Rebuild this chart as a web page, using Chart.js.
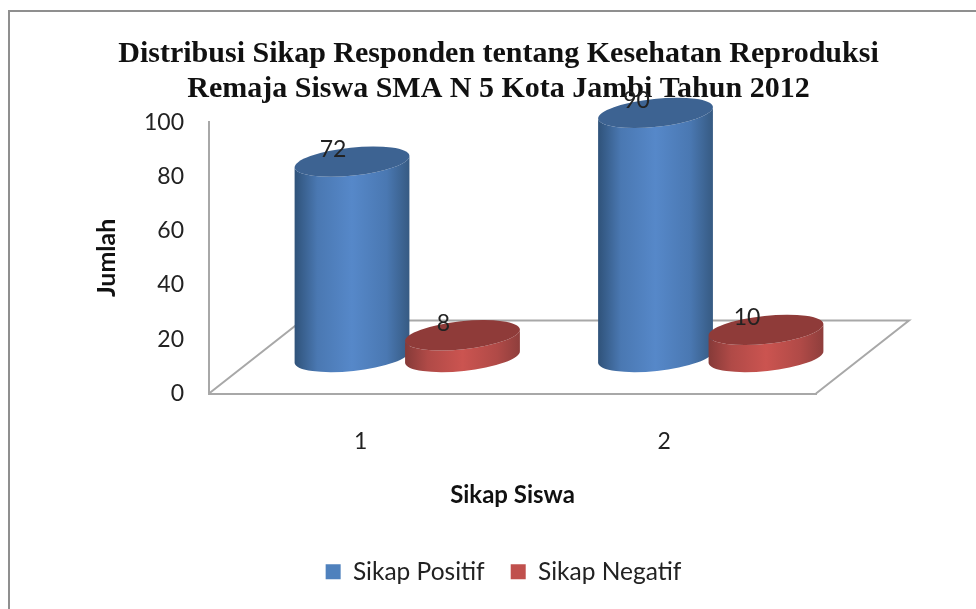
<!DOCTYPE html>
<html>
<head>
<meta charset="utf-8">
<style>
html, body { margin: 0; padding: 0; background: #fff; overflow: hidden; }
#frame { position: absolute; left: 8px; top: 10px; right: 0; bottom: 0; border-left: 2px solid #8f8f8f; border-top: 2px solid #8f8f8f; }
#myChart { position: absolute; left: 0; top: 0; }
</style>
<script src="https://cdn.jsdelivr.net/npm/chart.js@4"></script>
</head>
<body>
<div id="frame"></div>
<canvas id="myChart" width="976" height="609"></canvas>
<script>
const categories = ['1', '2'];
const sikapPositif = [72, 90];
const sikapNegatif = [8, 10];
const titleLines = ['Distribusi Sikap Responden tentang Kesehatan Reproduksi', 'Remaja Siswa SMA N 5 Kota Jambi Tahun 2012'];

// floor depth of the 3d box, cylinders stand in the middle of it
const depthX = 93;
const depthY = 73;
const tilt = -6 * Math.PI / 180;
const capHeight = 14;

const axisGrey = '#a8a8a8';
const textColor = '#222';
const bodyFont = 'Lato';

const shades = [
    { edgeL: '#2f5279', mid: '#4a78b2', light: '#5688c9', edgeR: '#365a82', cap: '#3d6392' },
    { edgeL: '#853a38', mid: '#b04a47', light: '#cb5450', edgeR: '#8e3e3c', cap: '#8f3b39' }
];

function drawCylinder(ctx, bar, shade) {
    const a = bar.width / 2;
    const cx = bar.x + depthX / 2;
    const top = bar.y - depthY / 2;
    const base = bar.base - depthY / 2;

    const grad = ctx.createLinearGradient(cx - a, 0, cx + a, 0);
    grad.addColorStop(0, shade.edgeL);
    grad.addColorStop(0.2, shade.mid);
    grad.addColorStop(0.5, shade.light);
    grad.addColorStop(0.8, shade.mid);
    grad.addColorStop(1, shade.edgeR);

    ctx.beginPath();
    ctx.ellipse(cx, base, a, capHeight, tilt, 0, Math.PI);
    ctx.ellipse(cx, top, a, capHeight, tilt, Math.PI, 0, true);
    ctx.closePath();
    ctx.fillStyle = grad;
    ctx.fill();

    ctx.beginPath();
    ctx.ellipse(cx, top, a, capHeight, tilt, 0, Math.PI * 2);
    ctx.fillStyle = shade.cap;
    ctx.fill();
}

const cylinders = {
    id: 'cylinders',
    afterLayout(chart) {
        // legend sits a little right of the title in the original
        chart.legend.left += 5;
        chart.legend.right += 5;
    },
    beforeDatasetsDraw(chart) {
        const { ctx, chartArea: area } = chart;

        // floor of the box
        ctx.save();
        ctx.strokeStyle = axisGrey;
        ctx.lineWidth = 2;
        ctx.beginPath();
        ctx.moveTo(area.left, area.bottom);
        ctx.lineTo(area.left + depthX, area.bottom - depthY);
        ctx.lineTo(area.right + depthX, area.bottom - depthY);
        ctx.lineTo(area.right, area.bottom);
        ctx.stroke();

        const metas = chart.data.datasets.map((d, i) => chart.getDatasetMeta(i));
        categories.forEach((c, i) => {
            metas.forEach((meta, d) => drawCylinder(ctx, meta.data[i], shades[d]));
        });

        ctx.fillStyle = textColor;
        ctx.font = '23px ' + bodyFont;
        ctx.textAlign = 'center';
        ctx.textBaseline = 'middle';
        metas.forEach((meta, d) => {
            meta.data.forEach((bar, i) => {
                const v = chart.data.datasets[d].data[i];
                ctx.fillText(v, bar.x + depthX / 2 - 19, bar.y - depthY / 2 - 12);
            });
        });
        ctx.restore();
        return false;
    }
};

new Chart(document.getElementById('myChart'), {
    type: 'bar',
    data: {
        labels: categories,
        datasets: [
            { label: 'Sikap Positif', data: sikapPositif, backgroundColor: '#4f81bd' },
            { label: 'Sikap Negatif', data: sikapNegatif, backgroundColor: '#c0504d' }
        ]
    },
    options: {
        responsive: false,
        animation: false,
        categoryPercentage: 0.728,
        barPercentage: 1.045,
        layout: { padding: { left: 21, bottom: 15 } },
        plugins: {
            tooltip: { enabled: false },
            title: {
                display: true,
                text: titleLines,
                color: '#111',
                font: { family: 'Liberation Serif', size: 30, weight: 'bold', lineHeight: 1.17 },
                padding: { top: 37, bottom: 15 }
            },
            legend: {
                position: 'bottom',
                labels: {
                    boxWidth: 15,
                    boxHeight: 15,
                    padding: 26,
                    color: textColor,
                    font: { family: bodyFont, size: 24.5 }
                }
            }
        },
        scales: {
            x: {
                grid: { display: false, drawTicks: false },
                border: { color: axisGrey, width: 2 },
                ticks: { color: textColor, padding: 34, maxRotation: 0, font: { family: bodyFont, size: 23 } },
                title: {
                    display: true,
                    text: 'Sikap Siswa',
                    color: '#111',
                    font: { family: bodyFont, size: 24, weight: 'bold', lineHeight: 1.2 },
                    padding: { top: 0, bottom: 24 }
                },
                afterFit(s) { s.height = 140; }
            },
            y: {
                min: 0,
                max: 100,
                grid: { display: false, drawTicks: false },
                border: { color: axisGrey, width: 2 },
                ticks: { stepSize: 20, color: textColor, padding: 25, font: { family: bodyFont, size: 23 } },
                title: {
                    display: true,
                    text: 'Jumlah',
                    color: '#111',
                    font: { family: bodyFont, size: 25, weight: 'bold', lineHeight: 1.2 },
                    padding: { top: 71, bottom: 0 }
                },
                afterFit(s) { s.width = 188; }
            },
            // empty axis, only keeps the room on the right of the plot
            spacer: {
                position: 'right',
                grid: { display: false, drawTicks: false },
                border: { display: false },
                ticks: { display: false },
                afterFit(s) { s.width = 160; }
            }
        }
    },
    plugins: [cylinders]
});
</script>
</body>
</html>
